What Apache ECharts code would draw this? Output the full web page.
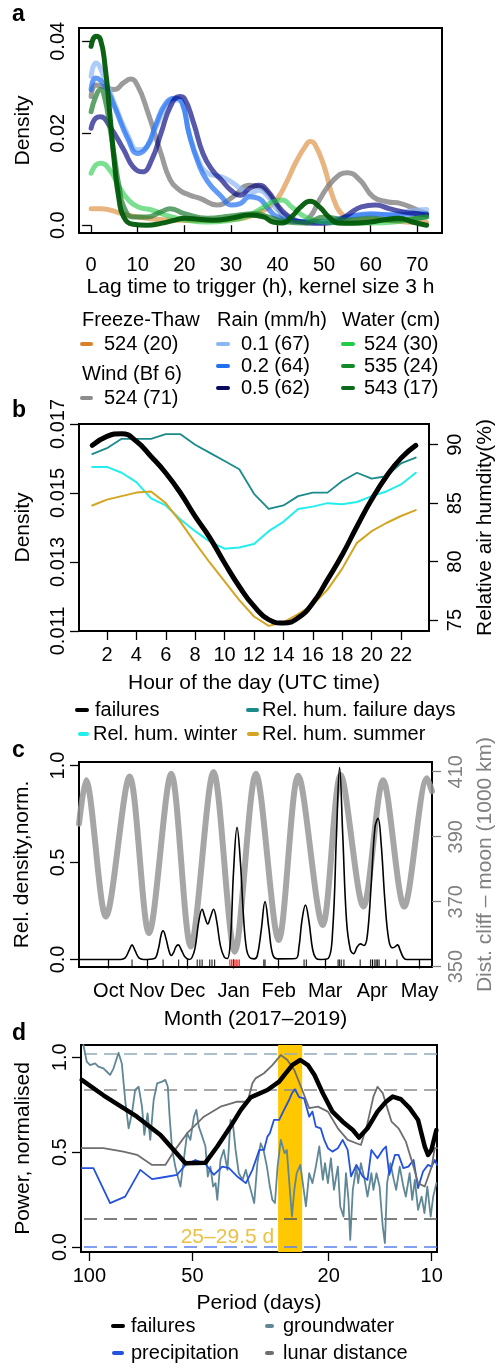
<!DOCTYPE html>
<html><head><meta charset="utf-8">
<script src="https://cdn.jsdelivr.net/npm/echarts@6/dist/echarts.min.js"></script>
<style>html,body{margin:0;padding:0;background:#fff}#c{width:504px;height:1365px}</style>
</head><body><div id="c"></div>
<script>
// ---------- Panel a: lag-time kernel densities [lag h, density] ----------
const aFreezeThaw = [[0,0.0036],[2,0.0036],[4,0.0033],[6,0.0027],[8,0.0022],[10,0.0018],[14,0.0013],[18,0.0011],[22,0.001],[26,0.001],[30,0.0012],[33,0.0016],[36,0.0028],[38,0.0038],[40,0.0058],[42,0.0095],[44,0.0138],[46,0.0172],[47,0.0182],[48,0.0176],[50,0.0128],[52,0.0058],[54,0.0022],[56,0.0013],[60,0.0013],[65,0.0009],[70,0.0006],[72,0.0006]];
const aWind = [[0,0.028],[1,0.0305],[2.5,0.0302],[5,0.0295],[7,0.031],[8.5,0.0318],[10,0.0303],[12,0.0251],[15,0.0156],[17,0.0098],[19,0.0076],[21,0.0066],[23.5,0.0058],[27,0.0044],[30.5,0.0062],[34,0.0087],[36.5,0.0082],[39,0.0055],[42.5,0.001],[45,0.0008],[47,0.0018],[49,0.0055],[52,0.0098],[55,0.0114],[57.7,0.0098],[60.5,0.0062],[63.5,0.0051],[66.5,0.0047],[70,0.0033],[72,0.0025]];
const aRain01 = [[0,0.0324],[1,0.0353],[3,0.0316],[5,0.0265],[8,0.0193],[10,0.0164],[12,0.0171],[14,0.0215],[16,0.0258],[18,0.0273],[19.5,0.0265],[21,0.02],[23,0.0142],[25,0.0113],[28,0.0105],[30,0.0095],[32,0.008],[34,0.0069],[36,0.0076],[38,0.0062],[40,0.0033],[43,0.0015],[46,0.0007],[50,0.0005],[55,0.0018],[60,0.0022],[65,0.0025],[70,0.0033],[72,0.0034]];
const aRain02 = [[0,0.0295],[1,0.032],[3,0.0302],[5,0.0258],[8,0.0185],[10,0.0156],[12,0.0171],[14,0.0222],[16,0.0265],[18,0.0276],[19.5,0.0268],[21,0.02],[23,0.0135],[25,0.0095],[28,0.0062],[30,0.0044],[32,0.0047],[34,0.0062],[36,0.0058],[38,0.0036],[40,0.0018],[45,0.0008],[50,0.0008],[55,0.0018],[60,0.0025],[65,0.0022],[70,0.0025],[72,0.0025]];
const aRain05 = [[0,0.0211],[1,0.0233],[2,0.0236],[4,0.0215],[7,0.0164],[9,0.0127],[11,0.0116],[13,0.0142],[15,0.02],[17,0.0258],[19,0.028],[20,0.0276],[22,0.0222],[24,0.0156],[26,0.012],[28,0.0098],[30,0.0076],[32,0.0065],[34,0.008],[36,0.0087],[38,0.0073],[40,0.0044],[42,0.0022],[45,0.0007],[48,0.0004],[52,0.0006],[55,0.0022],[58,0.004],[61,0.0044],[64,0.0036],[67,0.0029],[70,0.0025],[72,0.0022]];
const aWater524 = [[0,0.0113],[1,0.0131],[2,0.0135],[4,0.012],[6,0.0084],[8,0.0055],[10,0.004],[13,0.0033],[16,0.0022],[20,0.0012],[25,0.0007],[30,0.0011],[33,0.0018],[36,0.0033],[39,0.0051],[41,0.0055],[43,0.004],[46,0.0018],[50,0.0007],[55,0.0005],[60,0.0005],[65,0.0007],[70,0.0015],[72,0.0018]];
const aWater535 = [[0,0.0247],[1,0.028],[2,0.0295],[3,0.0273],[4,0.0215],[5,0.0149],[6,0.0084],[7,0.004],[9,0.0018],[12,0.0018],[15,0.0029],[17,0.0036],[20,0.0025],[25,0.0015],[30,0.002],[35,0.0025],[38,0.0018],[42,0.0007],[46,0.0005],[50,0.0018],[55,0.0011],[60,0.0015],[65,0.0011],[70,0.0015],[72,0.0018]];
const aWater543 = [[0,0.0389],[1,0.0411],[2,0.0404],[3,0.0345],[4,0.0244],[5,0.0135],[6,0.0055],[7,0.0018],[9,0.0002],[12,0],[15,0.0004],[18,0.0011],[20,0.0015],[23,0.0013],[26,0.0011],[30,0.0015],[34,0.0022],[37,0.0018],[39,0.0007],[41,0.0005],[43,0.0018],[45,0.004],[47,0.0052],[49,0.004],[51,0.0018],[53,0.0005],[56,0.0004],[60,0.0007],[63,0.0012],[66,0.0015],[69,0.0007],[72,0]];
const aXTicks = [0,10,20,30,40,50,60,70];
const aYTicks = [0,0.02,0.04];

// ---------- Panel b: hour of day ----------
const bHours = [1,2,3,4,5,6,7,8,9,10,11,12,13,14,15,16,17,18,19,20,21,22,23];
const bFailures = [0.01638,0.01664,0.01672,0.0165,0.01606,0.01558,0.015,0.01432,0.0137,0.01297,0.01229,0.01172,0.01133,0.01123,0.01138,0.01181,0.01249,0.01321,0.01403,0.01481,0.01548,0.01601,0.01638];
const bHumFailureDays = [89.2,89.7,90.5,90.5,90.5,90.9,90.9,90.0,89.3,88.6,87.9,85.8,84.5,84.8,85.6,85.9,85.9,86.9,87.6,87.1,87.3,88.4,88.9];
const bHumWinter = [88.1,88.1,87.6,86.8,85.4,84.8,83.6,82.6,81.7,81.1,81.2,81.5,82.6,83.4,84.5,84.7,85.0,84.9,85.1,85.6,86.0,86.6,87.6];
const bHumSummer = [84.8,85.3,85.6,85.9,86.0,85.0,83.4,81.6,79.9,78.3,76.7,75.3,74.5,74.8,75.5,76.3,77.6,79.4,81.6,82.6,83.3,83.9,84.4];
const bXTicks = [2,4,6,8,10,12,14,16,18,20,22];
const bYTicks = [0.011,0.013,0.015,0.017];
const bY2Ticks = [75,80,85,90];

// ---------- Panel c: season (days on axis) ----------
const cFailures = [[0,0],[27,0],[30,0.008],[32.5,0.045],[34.5,0.075],[36.5,0.045],[39,0.008],[42,0],[49,0.005],[51.5,0.05],[53.5,0.13],[54.7,0.148],[56.5,0.11],[58.5,0.045],[60,0.02],[61.5,0.035],[63,0.065],[64.6,0.075],[66.5,0.05],[69,0.012],[71.6,0],[73.5,0.01],[75.5,0.06],[78,0.2],[80.1,0.259],[81.8,0.22],[83.7,0.183],[85.6,0.22],[87.5,0.259],[89.5,0.2],[92,0.07],[94.5,0.012],[96.5,0.005],[98.5,0.1],[100.5,0.45],[102.8,0.681],[105,0.5],[107,0.22],[109,0.05],[111,0.01],[114,0.003],[116,0.02],[118.5,0.15],[121,0.298],[123.5,0.16],[126,0.025],[129,0.003],[141,0.005],[143,0.06],[145,0.2],[147.3,0.281],[149.5,0.2],[152,0.05],[154,0.008],[157,0],[162,0.005],[165,0.15],[167.5,0.65],[169.5,0.99],[171.5,0.65],[174,0.2],[176.5,0.05],[178.6,0.03],[181,0.065],[183,0.08],[185.4,0.072],[187.5,0.12],[190,0.38],[192.5,0.68],[194.5,0.728],[196.5,0.6],[199,0.3],[201.5,0.1],[204,0.06],[205.5,0.065],[207.2,0.075],[209,0.045],[211,0.01],[213,0],[229.6,0]];
const cMoon = [[0,394],[4.5,407.4],[17.5,365.4],[32.9,408.5],[45.5,360.3],[60,409.4],[72.7,356.2],[87.5,409.9],[101.3,354.6],[115.1,409.4],[129.9,358.2],[142.6,408.8],[158.5,362.8],[170.2,409],[185,368.5],[197.8,407.4],[211.5,368.5],[226.4,408],[229.6,404]];
const cRugBlack = [34.5,54.7,64.8,76.9,78.6,80.1,85.0,86.5,88.2,120.2,121,146.4,147.9,168.5,169.4,170.6,172.3,182.9,189.6,192.4,193.3,194.2,195.2,199.4,206.8];
const cRugRed = [98.1,99.2,100.4,101.4,102.3,103.3,104.3];
const cMonthTicks = [19.3,44.1,70.6,100.6,129.9,160.2,190.7,221.6];
const cMonthLabels = ['Oct','Nov','Dec','Jan','Feb','Mar','Apr','May'];
const cYTicks = [0,0.5,1];
const cY2Ticks = [350,370,390,410];

// ---------- Panel d: periodogram [period days, power] ----------
const dFailures = [[105.3,0.881],[91.0,0.80],[72.6,0.687],[62.0,0.591],[56.7,0.512],[52.4,0.442],[45.8,0.445],[42.3,0.53],[38.7,0.635],[36.1,0.723],[33.8,0.789],[30.2,0.828],[27.9,0.872],[27.0,0.905],[25.5,0.96],[24.2,0.986],[23.0,0.959],[22.0,0.907],[20.8,0.811],[19.5,0.714],[18.2,0.661],[17.0,0.617],[16.3,0.577],[15.4,0.626],[14.4,0.714],[13.6,0.766],[13.0,0.793],[12.3,0.779],[11.6,0.732],[10.96,0.67],[10.48,0.53],[10.25,0.486],[10.02,0.512],[9.69,0.617]];
const dLunar = [[105.3,0.521],[91.0,0.521],[79.5,0.503],[72.6,0.486],[65.6,0.433],[60.0,0.433],[56.7,0.503],[51.8,0.6],[46.3,0.687],[41.4,0.74],[37.0,0.766],[34.5,0.766],[33.4,0.863],[32.7,0.889],[30.9,0.916],[29.2,0.959],[27.6,1.012],[26.4,0.986],[25.2,0.933],[24.1,0.845],[22.8,0.732],[21.5,0.74],[20.1,0.714],[18.8,0.626],[17.6,0.565],[16.1,0.538],[15.4,0.653],[14.8,0.793],[14.4,0.845],[13.9,0.811],[13.1,0.661],[12.5,0.626],[11.9,0.556],[11.3,0.424],[10.96,0.337],[10.48,0.319],[10.0,0.424],[9.8,0.521],[9.65,0.521]];
const dPrecip = [[105.3,0.416],[97.3,0.416],[87.0,0.232],[78.6,0.266],[71.0,0.407],[65.6,0.358],[60.7,0.368],[55.4,0.381],[52.4,0.433],[49.0,0.459],[45.8,0.438],[43.3,0.381],[40.9,0.424],[39.1,0.416],[37.0,0.372],[34.9,0.337],[33.4,0.407],[31.9,0.512],[30.9,0.512],[30.2,0.582],[29.7,0.6],[28.9,0.67],[27.9,0.67],[27.0,0.723],[26.1,0.775],[25.6,0.811],[25.1,0.832],[24.4,0.79],[23.6,0.784],[22.8,0.687],[22.3,0.714],[21.8,0.635],[21.1,0.626],[20.6,0.565],[20.1,0.521],[19.5,0.503],[18.8,0.521],[18.2,0.565],[17.6,0.512],[17.2,0.372],[16.6,0.433],[15.9,0.372],[15.4,0.354],[15.0,0.512],[14.4,0.468],[13.9,0.512],[13.6,0.53],[13.3,0.381],[12.8,0.486],[12.5,0.486],[12.1,0.416],[11.7,0.424],[11.3,0.459],[10.96,0.311],[10.6,0.398],[10.25,0.433],[10.0,0.424],[9.8,0.459],[9.65,0.433]];
const dGroundwater = [[104.1,1.065],[101.8,0.977],[99.5,0.959],[96.2,0.968],[94.1,0.951],[91.0,0.942],[88.9,0.924],[87.0,0.907],[85.0,0.942],[82.2,1.024],[80.4,0.968],[78.6,0.775],[76.8,0.626],[75.1,0.705],[73.5,0.828],[71.8,0.845],[70.2,0.74],[69.1,0.591],[67.6,0.705],[66.4,0.565],[64.9,0.775],[63.4,0.863],[61.3,0.872],[60.0,0.881],[59.0,0.845],[58.3,0.687],[57.3,0.512],[56.1,0.424],[55.2,0.372],[54.2,0.319],[53.0,0.459],[51.8,0.6],[50.7,0.565],[49.5,0.687],[48.7,0.723],[47.9,0.635],[46.8,0.582],[45.8,0.53],[45.1,0.372],[44.3,0.424],[43.5,0.319],[42.8,0.337],[42.3,0.249],[41.4,0.459],[40.5,0.512],[39.5,0.407],[38.7,0.67],[38.1,0.653],[37.4,0.512],[36.6,0.389],[35.7,0.354],[34.9,0.407],[34.2,0.337],[33.0,0.232],[32.3,0.442],[31.6,0.547],[31.0,0.512],[30.3,0.424],[29.7,0.319],[29.2,0.249],[28.7,0.232],[28.2,0.424],[27.6,0.565],[27.3,0.565],[26.9,0.495],[26.5,0.512],[26.1,0.354],[25.6,0.161],[25.2,0.302],[24.8,0.389],[24.2,0.433],[23.8,0.337],[23.3,0.214],[22.8,0.389],[22.3,0.337],[21.8,0.424],[21.3,0.53],[20.8,0.354],[20.5,0.442],[20.1,0.337],[19.7,0.468],[19.3,0.302],[18.8,0.424],[18.5,0.214],[18.1,0.161],[17.8,0.389],[17.5,0.249],[17.3,0.038],[17.0,0.302],[16.6,0.424],[16.4,0.337],[16.1,0.442],[15.7,0.354],[15.4,0.266],[15.0,0.389],[14.8,0.302],[14.5,0.389],[14.2,0.319],[13.9,0.108],[13.7,0.021],[13.5,0.337],[13.2,0.442],[12.9,0.354],[12.7,0.302],[12.4,0.424],[12.1,0.319],[11.9,0.266],[11.6,0.389],[11.4,0.249],[11.2,0.354],[10.96,0.196],[10.7,0.266],[10.5,0.179],[10.3,0.319],[10.07,0.161],[9.9,0.266],[9.69,0.337]];
const dSigGroundwater = 1.021, dSigLunar = 0.833, dSigFailures = 0.153, dSigPrecip = 0.0;
const dBand = [28.1, 23.9];
const dBandLabel = '25\u201329.5 d';
const dXTicks = [10,20,50,100];
const dYTicks = [0,0.5,1];

// ---------- styling ----------
const FONT = "'Liberation Sans', Arial, Helvetica, sans-serif";
function axisBase(extra){
  return Object.assign({
    type:'value', axisLine:{show:false}, splitLine:{show:false},
    nameLocation:'middle', nameTextStyle:{fontSize:21, color:'#000', fontFamily:FONT}
  }, extra);
}
function lbl(ticks, fmt, margin, rotate, color){
  return {show:true, customValues:ticks, formatter:fmt, margin:margin, rotate:rotate||0,
          fontSize:20, color:color||'#000', fontFamily:FONT};
}
function tk(ticks, color, len){
  return {show:true, inside:false, length:len||9, customValues:ticks, lineStyle:{color:color||'#000', width:1.3}};
}
const gridStyle = {show:true, borderColor:'#000', borderWidth:2, backgroundColor:'transparent', containLabel:false};

const log10 = Math.log10;
const dMin = 9.65, dMax = 105.8;

const option = {
  animation:false,
  backgroundColor:'#fff',
  grid:[
    Object.assign({left:79, top:28, width:363, height:205}, gridStyle),
    Object.assign({left:79, top:424, width:360, height:207}, gridStyle),
    Object.assign({left:79, top:762, width:361, height:205}, gridStyle),
    Object.assign({left:81, top:1045, width:356, height:207}, gridStyle)
  ],
  xAxis:[
    axisBase({gridIndex:0, position:'bottom', offset:4, min:-2.6, max:75.3, axisTick:tk(aXTicks,'#000',8), axisLabel:lbl(aXTicks, v=>String(v), 18),
      name:'Lag time to trigger (h), kernel size 3 h', nameGap:40}),
    axisBase({gridIndex:1, position:'bottom', min:0.1, max:23.9, axisTick:tk(bXTicks), axisLabel:lbl(bXTicks, v=>String(v), 14),
      name:'Hour of the day (UTC time)', nameGap:42}),
    axisBase({gridIndex:2, position:'bottom', min:0, max:229.6, axisTick:tk(cMonthTicks),
      axisLabel:lbl(cMonthTicks, v=>{let b=0;cMonthTicks.forEach((t,i)=>{if(Math.abs(t-v)<Math.abs(cMonthTicks[b]-v))b=i;});return cMonthLabels[b];}, 14),
      name:'Month (2017\u20132019)', nameGap:42}),
    axisBase({gridIndex:3, position:'top', type:'log', logBase:10, min:dMin, max:dMax, inverse:true,
      axisTick:{show:false}, axisLabel:{show:false}}),
    axisBase({gridIndex:3, position:'bottom', min:log10(dMin), max:log10(dMax), inverse:true,
      axisTick:tk(dXTicks.map(log10)), axisLabel:lbl(dXTicks.map(log10), v=>String(Math.round(Math.pow(10,v))), 14),
      name:'Period (days)', nameGap:41})
  ],
  yAxis:[
    axisBase({gridIndex:0, min:-0.0017, max:0.0429, axisTick:tk(aYTicks),
      axisLabel:lbl(aYTicks, v=>v===0?'0.0':String(v), 11, 90), name:'Density', nameRotate:90, nameGap:45}),
    axisBase({gridIndex:1, min:0.011, max:0.017, axisTick:tk(bYTicks),
      axisLabel:lbl(bYTicks, v=>v.toFixed(3), 11, 90), name:'Density', nameRotate:90, nameGap:45}),
    axisBase({gridIndex:1, position:'right', min:74.06, max:91.77, axisTick:tk(bY2Ticks),
      axisLabel:lbl(bY2Ticks, v=>String(v), 16, 90), name:'Relative air humdity(%)', nameRotate:90, nameGap:46}),
    axisBase({gridIndex:2, min:-0.039, max:1.018, axisTick:tk(cYTicks),
      axisLabel:lbl(cYTicks, v=>v.toFixed(1), 11, 90), name:'Rel. density,norm.', nameRotate:90, nameGap:46}),
    axisBase({gridIndex:2, position:'right', min:349.9, max:413, axisTick:tk(cY2Ticks,'#808080'),
      axisLabel:lbl(cY2Ticks, v=>String(v), 14, 90, '#808080'), name:'Dist. cliff \u2013 moon (1000 km)', nameRotate:90, nameGap:43,
      nameTextStyle:{fontSize:21, color:'#808080', fontFamily:FONT}}),
    axisBase({gridIndex:3, min:-0.026, max:1.065, axisTick:tk(dYTicks),
      axisLabel:lbl(dYTicks, v=>v.toFixed(1), 11, 90), name:'Power, normalised', nameRotate:90, nameGap:47})
  ],
  series:[],
  graphic:[]
};

function line(xi, yi, data, color, width, smooth, extra){
  return Object.assign({type:'line', xAxisIndex:xi, yAxisIndex:yi, data:data, showSymbol:false, symbol:'none',
    smooth:smooth, clip:true, lineStyle:{color:color, width:width, cap:'round', join:'round'}, z:3}, extra||{});
}

// panel a
const aSeries = [
  [aFreezeThaw,'rgba(217,130,43,0.6)'],
  [aWind,'rgba(130,130,130,0.8)'],
  [aRain01,'rgba(141,182,247,0.7)'],
  [aRain02,'rgba(31,111,242,0.7)'],
  [aRain05,'rgba(0,0,128,0.65)'],
  [aWater524,'rgba(34,204,68,0.6)'],
  [aWater535,'rgba(26,122,46,0.7)'],
  [aWater543,'rgba(0,90,10,0.95)']
];
aSeries.forEach(s=>option.series.push(line(0,0,s[0],s[1],5,0.5)));

// panel b
option.series.push(line(1,2,bHours.map((h,i)=>[h,bHumFailureDays[i]]),'#1b8a8a',1.8,false));
option.series.push(line(1,2,bHours.map((h,i)=>[h,bHumWinter[i]]),'#22eeee',2,false));
option.series.push(line(1,2,bHours.map((h,i)=>[h,bHumSummer[i]]),'#d4a520',2,false));
option.series.push(line(1,1,bHours.map((h,i)=>[h,bFailures[i]]),'#000',5,0.5));

// panel c
option.series.push(line(2,4,cMoon,'rgba(150,150,150,0.85)',6,0.3));
option.series.push(line(2,3,cFailures,'#000',1.6,0.4));
option.series.push({type:'scatter', xAxisIndex:2, yAxisIndex:3, data:cRugBlack.map(d=>[d,0]), symbol:'rect',
  symbolSize:[1.2,7], symbolOffset:[0,3.5], itemStyle:{color:'#000'}, z:4, silent:true});
option.series.push({type:'scatter', xAxisIndex:2, yAxisIndex:3, data:cRugRed.map(d=>[d,0]), symbol:'rect',
  symbolSize:[1.2,7], symbolOffset:[0,3.5], itemStyle:{color:'#ff0000'}, z:4, silent:true});

// panel d
const dash = (y,c)=>({yAxis:y, lineStyle:{color:c, type:[13,7], width:1.5}});
option.series.push(line(3,5,dGroundwater,'#5f8795',1.8,false,{
  markArea:{silent:true, z:1, itemStyle:{color:'#FFC800'},
    label:{show:true, position:'left', distance:4, offset:[0,89], color:'#EBC043', fontSize:21, fontFamily:FONT},
    data:[[{xAxis:dBand[0], name:dBandLabel},{xAxis:dBand[1]}]]},
  markLine:{silent:true, z:2, symbol:['none','none'], label:{show:false},
    data:[dash(dSigGroundwater,'#92aabb'),dash(dSigLunar,'#8c8c8c'),dash(dSigFailures,'#555555'),dash(dSigPrecip,'#5a80ee')]}
}));
option.series.push(line(3,5,dPrecip,'#2352dc',1.8,false));
option.series.push(line(3,5,dLunar,'#6e6e6e',1.8,false));
option.series.push(line(3,5,dFailures,'#000',4.5,false));

// ---------- graphic: panel letters & legends ----------
const G = option.graphic;
function txt(x,y,t,opt){
  G.push({type:'text', x:x, y:y, silent:true, style:Object.assign({text:t, fill:'#000', fontSize:20, fontFamily:FONT,
    textVerticalAlign:'middle', verticalAlign:'middle', textAlign:'left', align:'left'}, opt||{})});
}
function seg(x1,x2,y,color,w){
  G.push({type:'line', silent:true, shape:{x1:x1,y1:y,x2:x2,y2:y}, style:{stroke:color, lineWidth:w||4, lineCap:'round'}});
}
['a','b','c','d'].forEach((l,i)=>txt(12,[15,411,751,1034][i],l,{fontSize:23,fontWeight:'bold'}));

// legend a
txt(82,320,'Freeze-Thaw'); seg(82,91,344,'#D9822B'); txt(104,344,'524 (20)');
txt(82,374,'Wind (Bf 6)'); seg(82,91,398,'#8C8C8C'); txt(104,398,'524 (71)');
txt(217,320,'Rain (mm/h)');
seg(218,228,344,'#8DB6F7'); txt(241,344,'0.1 (67)');
seg(218,228,366,'#1F6FF2'); txt(241,366,'0.2 (64)');
seg(218,228,388,'#0A0A5A'); txt(241,388,'0.5 (62)');
txt(342,320,'Water (cm)');
seg(343,353,344,'#22CC44'); txt(364,344,'524 (30)');
seg(343,353,366,'#138A2A'); txt(364,366,'535 (24)');
seg(343,353,388,'#0A6A1A'); txt(364,388,'543 (17)');

// legend b
seg(77,87,710,'#000'); txt(95,710,'failures');
seg(248,257,710,'#1b8a8a'); txt(262,710,'Rel. hum. failure days');
seg(80,87,734,'#22eeee'); txt(93,734,'Rel. hum. winter');
seg(249,257,734,'#d4a520'); txt(262,734,'Rel. hum. summer');

// legend d
seg(113,123,1326,'#000'); txt(131,1326,'failures');
seg(267,272,1326,'#5f8795'); txt(283,1326,'groundwater');
seg(114,122,1353,'#2352dc'); txt(131,1353,'precipitation');
seg(267,272,1353,'#6e6e6e'); txt(283,1353,'lunar distance');

const chart = echarts.init(document.getElementById('c'), null, {renderer:'canvas', width:504, height:1365});
chart.setOption(option);
</script></body></html>
